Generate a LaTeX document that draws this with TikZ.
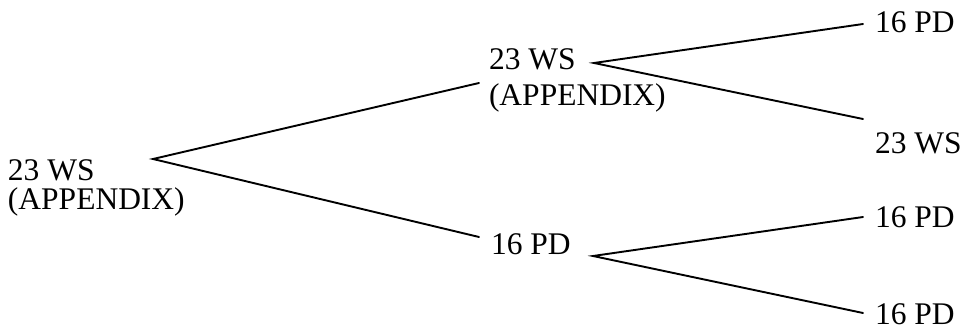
\documentclass[tikz,border=0pt]{standalone}
\usepackage{fontspec}
\setmainfont{Liberation Serif}
\tikzset{
  lbl/.style={anchor=base west, inner sep=0pt, outer sep=0pt, font=\fontsize{31.5}{36}\selectfont},
  conn/.style={line width=1.9pt, line cap=round}
}
\begin{document}
\begin{tikzpicture}[x=1pt,y=-1pt]
\useasboundingbox (0,0) rectangle (960,331);
% left node
\node[lbl] (rootA) at (8,180) {23 WS};
\node[lbl] (rootB) at (8,209) {(APPENDIX)};
% middle nodes
\node[lbl] (upA) at (489,70) {23 WS};
\node[lbl] (upB) at (489,106) {(APPENDIX)};
\node[lbl] (low) at (491,254) {16 PD};
% right nodes
\node[lbl] (r1) at (875,33) {16 PD};
\node[lbl] (r2) at (875,154) {23 WS};
\node[lbl] (r3) at (875,227) {16 PD};
\node[lbl] (r4) at (875,324) {16 PD};
% connector points
\coordinate (rootR) at (153,159);
\coordinate (upL) at (479,83);
\coordinate (lowL) at (479,237);
\coordinate (upR) at (594,63);
\coordinate (lowR) at (593,256);
\coordinate (r1L) at (863,24);
\coordinate (r2L) at (863,119);
\coordinate (r3L) at (863,217);
\coordinate (r4L) at (863,313);
\draw[conn] (upL) -- (rootR) -- (lowL);
\draw[conn] (r1L) -- (upR) -- (r2L);
\draw[conn] (r3L) -- (lowR) -- (r4L);
\end{tikzpicture}
\end{document}
